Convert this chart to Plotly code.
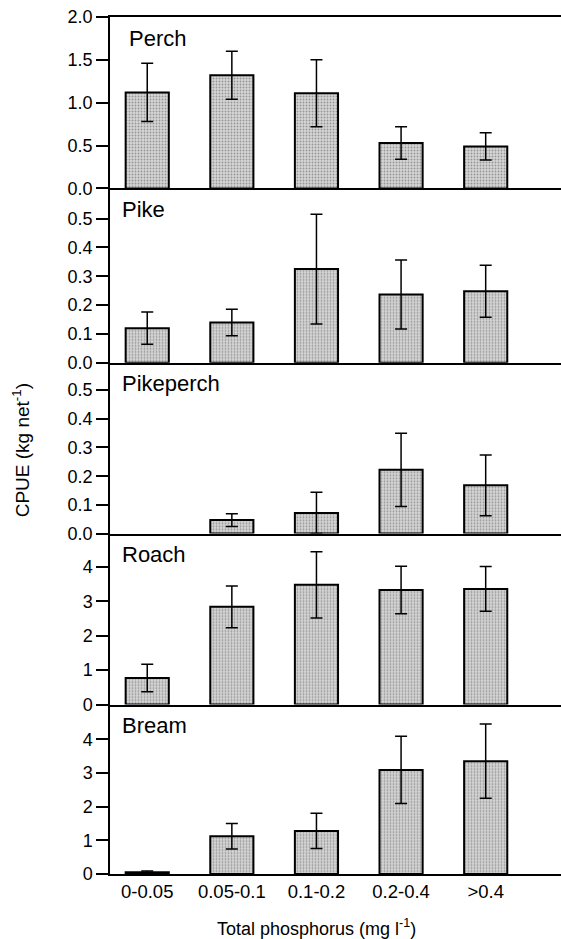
import plotly.graph_objects as go

# Total phosphorus classes (mg l-1)
categories = ["0-0.05", "0.05-0.1", "0.1-0.2", "0.2-0.4", ">0.4"]

# Mean CPUE (kg net-1) and error half-widths per species
perch = [1.12, 1.32, 1.11, 0.53, 0.49]
perch_err = [0.34, 0.28, 0.39, 0.19, 0.16]

pike = [0.12, 0.14, 0.325, 0.237, 0.248]
pike_err = [0.056, 0.046, 0.19, 0.12, 0.09]

pikeperch = [None, 0.047, 0.072, 0.222, 0.168]
pikeperch_err = [None, 0.022, 0.072, 0.128, 0.106]

roach = [0.77, 2.84, 3.48, 3.33, 3.36]
roach_err = [0.40, 0.61, 0.96, 0.69, 0.65]

bream = [0.05, 1.12, 1.28, 3.09, 3.35]
bream_err = [0.04, 0.38, 0.52, 1.00, 1.10]

species = ["Perch", "Pike", "Pikeperch", "Roach", "Bream"]
values = [perch, pike, pikeperch, roach, bream]
errors = [perch_err, pike_err, pikeperch_err, roach_err, bream_err]
y_ranges = [[0, 2.0], [0, 0.605], [0, 0.595], [0, 4.97], [0, 5.03]]
y_ticks = [
    [0, 0.5, 1.0, 1.5, 2.0],
    [0, 0.1, 0.2, 0.3, 0.4, 0.5],
    [0, 0.1, 0.2, 0.3, 0.4, 0.5],
    [0, 1, 2, 3, 4],
    [0, 1, 2, 3, 4],
]
y_formats = [".1f", ".1f", ".1f", "d", "d"]
domains = [[0.800, 1.0], [0.5965, 0.800], [0.3972, 0.5965], [0.1977, 0.3972], [0.0, 0.1977]]
label_x = [0.038, 0.022, 0.022, 0.022, 0.022]

FONT = "Liberation Sans, Arial, Helvetica, sans-serif"

fig = go.Figure()
layout = dict(
    width=561,
    height=939,
    margin=dict(l=110, r=0, t=17, b=65),
    paper_bgcolor="white",
    plot_bgcolor="white",
    showlegend=False,
    bargap=0.49,
    font=dict(family=FONT, color="black", size=18),
)

annotations = []
for i, (name, vals, errs) in enumerate(zip(species, values, errors)):
    n = i + 1
    xa = "x" if n == 1 else f"x{n}"
    ya = "y" if n == 1 else f"y{n}"
    fig.add_trace(go.Bar(
        x=categories,
        y=vals,
        xaxis=xa,
        yaxis=ya,
        width=0.51,
        marker=dict(
            color="#d6d6d6",
            line=dict(color="black", width=2),
            pattern=dict(shape=".", fgcolor="#555555", size=3, solidity=0.3),
        ),
        error_y=dict(type="data", array=errs, visible=True,
                     color="black", thickness=1.5, width=6),
    ))
    xkey = "xaxis" if n == 1 else f"xaxis{n}"
    ykey = "yaxis" if n == 1 else f"yaxis{n}"
    layout[xkey] = dict(
        anchor=ya,
        domain=[0, 1],
        type="category",
        categoryorder="array",
        categoryarray=categories,
        range=[-0.44, 4.89],
        showline=True,
        linecolor="black",
        linewidth=2,
        mirror=(n == 1),
        ticks="",
        showgrid=False,
        zeroline=False,
        showticklabels=(n == 5),
        tickfont=dict(size=18.5),
        matches=None if n == 1 else "x",
    )
    layout[ykey] = dict(
        anchor=xa,
        domain=domains[i],
        range=y_ranges[i],
        tickvals=y_ticks[i],
        tickformat=y_formats[i],
        ticks="outside",
        ticklen=12,
        tickwidth=1.5,
        tickcolor="black",
        showline=True,
        linecolor="black",
        linewidth=1.5,
        showgrid=False,
        zeroline=False,
        tickfont=dict(size=18),
    )
    annotations.append(dict(
        text=name, xref="paper", yref=f"{ya} domain",
        x=label_x[i], y=1 - 21 / 171, xanchor="left", yanchor="middle",
        showarrow=False, font=dict(size=22),
    ))

annotations.append(dict(
    text="Total phosphorus (mg l<sup>-1</sup>)", xref="x5", yref="paper",
    x="0.1-0.2", y=-0.063, xanchor="center", yanchor="middle",
    showarrow=False, font=dict(size=18),
))
annotations.append(dict(
    text="CPUE (kg net<sup>-1</sup>)", xref="paper", yref="paper",
    x=-0.198, y=0.494, xanchor="center", yanchor="middle", textangle=-90,
    showarrow=False, font=dict(size=19),
))
layout["annotations"] = annotations

fig.update_layout(**layout)
fig.write_html("out.html")
